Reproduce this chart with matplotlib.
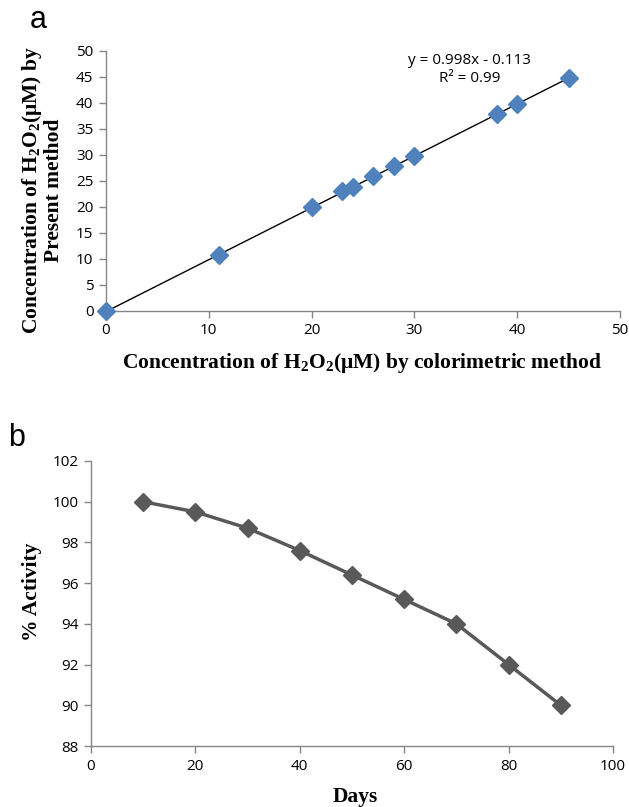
import numpy as np
import matplotlib
matplotlib.use("Agg")
import matplotlib.pyplot as plt

plt.rcParams["mathtext.fontset"] = "custom"
plt.rcParams["mathtext.rm"] = "Liberation Serif:bold"
plt.rcParams["mathtext.it"] = "Liberation Serif:bold"
plt.rcParams["mathtext.bf"] = "Liberation Serif:bold"

# panel a: present method vs colorimetric method
colorimetric = [0, 11, 20, 23, 24, 26, 28, 30, 38, 40, 45]
present = [0, 10.7, 20, 23, 23.8, 26, 27.8, 29.8, 37.8, 39.8, 44.9]
slope = 0.998
intercept = -0.113
r_squared = 0.99

# panel b: stability over days
days = [10, 20, 30, 40, 50, 60, 70, 80, 90]
activity = [100, 99.5, 98.7, 97.6, 96.4, 95.2, 94, 92, 90]

W, H = 629, 807
fig = plt.figure(figsize=(W / 100, H / 100), dpi=100)

tick_font = dict(family="Open Sans", size=11)
label_font = dict(family="Liberation Serif", weight="bold", size=15.5)
spine_col = "#868686"


def style(ax):
    for s in ("top", "right"):
        ax.spines[s].set_visible(False)
    for s in ("left", "bottom"):
        ax.spines[s].set_color(spine_col)
        ax.spines[s].set_linewidth(1.0)
    ax.tick_params(direction="out", length=5, width=1.0, color=spine_col,
                   labelcolor="black", pad=4)
    for lbl in ax.get_xticklabels() + ax.get_yticklabels():
        lbl.set_fontfamily(tick_font["family"])
        lbl.set_fontsize(tick_font["size"])


def axes_px(left, right, top, bottom):
    return fig.add_axes([left / W, 1 - bottom / H, (right - left) / W, (bottom - top) / H])


# ---- panel a
ax1 = axes_px(106, 620, 51, 311)
ax1.plot(colorimetric, present, linestyle="none", marker="D", markersize=9,
         color="#4f81bd", zorder=3, clip_on=False)
xfit = np.array([0, max(colorimetric)])
ax1.plot(xfit, slope * xfit + intercept, color="black", linewidth=1.0, zorder=2)
ax1.set_xlim(0, 50)
ax1.set_ylim(0, 50)
ax1.set_xticks(range(0, 51, 10))
ax1.set_yticks(range(0, 51, 5))
style(ax1)
ax1.text(35.4, 48.1, f"y = {slope}x - {abs(intercept)}", ha="center", va="center",
         family="Open Sans", size=11)
ax1.text(35.4, 44.8, f"R² = {r_squared}", ha="center", va="center",
         family="Open Sans", size=11)
ax1.set_xlabel(r"Concentration of H$_2$O$_2$(μM) by colorimetric method", **label_font,
               va="center")
ax1.xaxis.set_label_coords(0.498, -0.2)
ax1.set_ylabel("Concentration of H$_2$O$_2$(μM) by\nPresent method", **label_font,
               va="center", linespacing=1.0)
ax1.yaxis.set_label_coords(-0.1245, 0.465)
fig.text(38 / W, 1 - 20 / H, "a", family="Liberation Sans", size=22,
         ha="center", va="center")

# ---- panel b
ax2 = axes_px(91, 613, 461, 746)
ax2.plot(days, activity, color="#595959", linewidth=2.5, marker="D", markersize=9,
         zorder=3)
ax2.set_xlim(0, 100)
ax2.set_ylim(88, 102)
ax2.set_xticks(range(0, 101, 20))
ax2.set_yticks(range(88, 103, 2))
style(ax2)
ax2.set_xlabel("Days", **label_font, va="center")
ax2.xaxis.set_label_coords(0.506, -0.179)
ax2.set_ylabel("% Activity", **label_font, va="center")
ax2.yaxis.set_label_coords(-0.113, 0.54)
fig.text(17 / W, 1 - 438 / H, "b", family="Liberation Sans", size=22,
         ha="center", va="center")

fig.savefig("out.png", dpi=100)
